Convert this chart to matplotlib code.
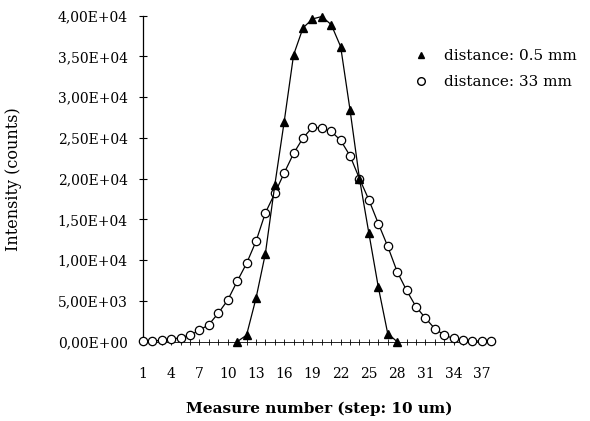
import numpy as np
import matplotlib
matplotlib.use('Agg')
import matplotlib.pyplot as plt
from matplotlib.lines import Line2D

# measure number (step: 10 um)
x_near = list(range(11, 29))
y_near = [0, 800, 5300, 10800, 19200, 27000, 35200, 38500, 39600,
          39900, 38900, 36200, 28400, 20000, 13300, 6700, 1000, 0]

x_far = list(range(1, 39))
y_far = [100, 100, 150, 300, 500, 800, 1400, 2100, 3500, 5100,
         7400, 9600, 12300, 15800, 18200, 20700, 23100, 25000, 26300, 26200,
         25800, 24700, 22800, 20000, 17400, 14500, 11700, 8600, 6300, 4300,
         2900, 1600, 800, 400, 200, 100, 50, 50]

xtick_vals = list(range(1, 38, 3))
ytick_vals = [0, 5000, 10000, 15000, 20000, 25000, 30000, 35000, 40000]
ytick_labels = ['0,00E+00', '5,00E+03', '1,00E+04', '1,50E+04', '2,00E+04',
                '2,50E+04', '3,00E+04', '3,50E+04', '4,00E+04']
legend_labels = ['distance: 0.5 mm', 'distance: 33 mm']

plt.rcParams['font.family'] = 'DejaVu Serif'

fig = plt.figure(figsize=(5.9, 4.21), dpi=100)
ax = fig.add_axes([0.2424, 0.1884, 0.839 - 0.2424, 0.9627 - 0.1884])

ax.plot(x_far, y_far, color='black', lw=0.9, marker='o', ms=6.0,
        mfc='white', mec='black', mew=0.9, clip_on=False, zorder=3)
ax.plot(x_near, y_near, color='black', lw=0.9, marker='^', ms=6.0,
        mfc='black', mec='black', clip_on=False, zorder=4)

ax.set_xlim(1, 38.4)
ax.set_ylim(0, 40000)
ax.set_xticks(xtick_vals)
ax.set_xticks(range(1, 39), minor=True)
ax.set_yticks(ytick_vals)
ax.set_yticklabels(ytick_labels)
ax.tick_params(axis='x', which='major', direction='inout', length=4, width=0.6,
               labelsize=10, pad=16)
ax.tick_params(axis='x', which='minor', direction='inout', length=4, width=0.6)
ax.tick_params(axis='y', direction='inout', length=6, width=0.8, labelsize=10, pad=8)

for s in ['top', 'right']:
    ax.spines[s].set_visible(False)
ax.spines['left'].set_linewidth(0.9)
ax.spines['bottom'].set_linewidth(0.6)

ax.set_xlabel('Measure number (step: 10 um)', fontsize=11, fontweight='bold', labelpad=15)
ax.set_ylabel('Intensity (counts)', fontsize=11.5, labelpad=26)

handles = [Line2D([], [], ls='none', marker='^', ms=5, mfc='black', mec='black'),
           Line2D([], [], ls='none', marker='o', ms=5.5, mfc='white', mec='black')]
fig.legend(handles, legend_labels, loc='upper left', bbox_to_anchor=(0.69, 0.898),
           frameon=False, fontsize=11, handlelength=1.0, handletextpad=1.0,
           labelspacing=0.8, borderaxespad=0)

fig.savefig('out.png', dpi=100)
